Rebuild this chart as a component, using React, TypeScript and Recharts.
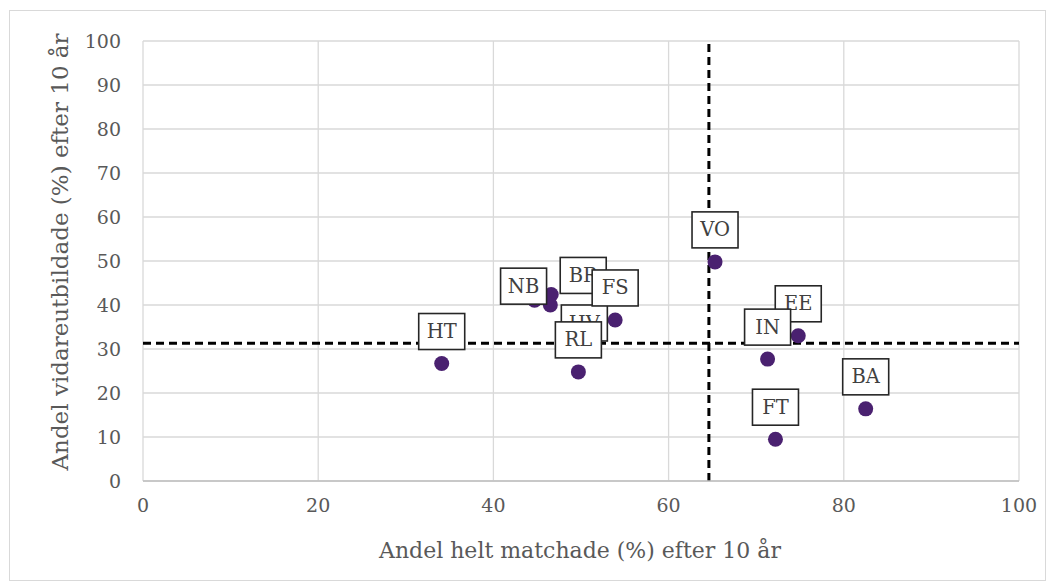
import { ScatterChart, Scatter, XAxis, YAxis, CartesianGrid, ReferenceLine, LabelList, Label } from "recharts";

// program codes with their two shares (percent after 10 years)
const programs = ["VO", "EE", "IN", "BA", "FT", "HT", "NB", "BR", "HV", "FS", "RL"];
const matchedShare = [65.3, 74.8, 71.3, 82.5, 72.2, 34.1, 44.7, 46.6, 46.5, 53.9, 49.7];
const furtherEduShare = [49.8, 33.0, 27.7, 16.4, 9.5, 26.7, 41.1, 42.4, 40.0, 36.6, 24.8];

const xTicks = [0, 20, 40, 60, 80, 100];
const yTicks = [0, 10, 20, 30, 40, 50, 60, 70, 80, 90, 100];

// average lines
const avgMatched = 64.6;
const avgFurtherEdu = 31.3;

// labels that were moved by hand in the original (px offset of label centre from the point)
const labelShift: Record<string, [number, number]> = {
  NB: [-11, -14],
  BR: [32, -19],
  HV: [34, 18],
};

const FONT = "'DejaVu Serif', serif";
const TEXT = "#595959";

const data = programs.map((name, i) => ({ name, x: matchedShare[i], y: furtherEduShare[i] }));

const Dot = (props: any) => <circle cx={props.cx} cy={props.cy} r={7.5} fill="#4a2170" />;

const BoxLabel = (props: any) => {
  const { viewBox, value } = props;
  if (!viewBox) return null;
  const cx = viewBox.x + (viewBox.width || 0) / 2;
  const cy = viewBox.y + (viewBox.height || 0) / 2;
  const [dx, dy] = labelShift[value] || [0, -32];
  const w = 46;
  const h = 36;
  return (
    <g>
      <rect x={cx + dx - w / 2} y={cy + dy - h / 2} width={w} height={h} fill="#fff" stroke="#262626" strokeWidth={1.6} />
      <text x={cx + dx} y={cy + dy} textAnchor="middle" dominantBaseline="central" fontFamily={FONT} fontSize={19.5} fill="#404040">
        {value}
      </text>
    </g>
  );
};

export default function App() {
  return (
    <div style={{ position: "absolute", left: 0, top: 0, width: 1054, height: 587, background: "#fff" }}>
      <div style={{ position: "absolute", left: 9, top: 10, width: 1035, height: 569, border: "1px solid #d9d9d9" }} />
      <ScatterChart width={1054} height={587} margin={{ top: 41, right: 35, bottom: 36, left: 0 }}>
        <CartesianGrid stroke="#d9d9d9" strokeWidth={1.3} />
        <XAxis
          type="number"
          dataKey="x"
          domain={[0, 100]}
          ticks={xTicks}
          height={70}
          tickSize={0}
          tickMargin={18}
          axisLine={{ stroke: "#bfbfbf", strokeWidth: 1.5 }}
          tick={{ fill: TEXT, fontSize: 19, fontFamily: FONT }}
        >
          <Label
            content={() => (
              <text x={580} y={550} textAnchor="middle" dominantBaseline="central" fontFamily={FONT} fontSize={22} fill={TEXT}>
                Andel helt matchade (%) efter 10 år
              </text>
            )}
          />
        </XAxis>
        <YAxis
          type="number"
          dataKey="y"
          domain={[0, 100]}
          ticks={yTicks}
          width={143}
          tickSize={0}
          tickMargin={22}
          axisLine={false}
          tick={{ fill: TEXT, fontSize: 19, fontFamily: FONT }}
        >
          <Label
            content={() => (
              <text x={60} y={252} textAnchor="middle" dominantBaseline="central" fontFamily={FONT} fontSize={23} fill={TEXT} transform="rotate(-90, 60, 252)">
                Andel vidareutbildade (%) efter 10 år
              </text>
            )}
          />
        </YAxis>
        <ReferenceLine y={avgFurtherEdu} stroke="#000" strokeWidth={3} strokeDasharray="8 5" />
        <ReferenceLine x={avgMatched} stroke="#000" strokeWidth={3} strokeDasharray="8 5" />
        <Scatter data={data} shape={<Dot />} isAnimationActive={false}>
          <LabelList dataKey="name" content={<BoxLabel />} />
        </Scatter>
      </ScatterChart>
    </div>
  );
}
